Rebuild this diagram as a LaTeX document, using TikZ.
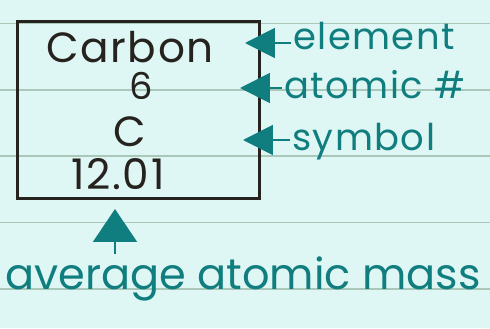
\documentclass[tikz,border=0pt]{standalone}
\usepackage{fontspec}
\setmainfont{Poppins}
\newfontfamily\wideface{Poppins}[LetterSpace=4]
\usepackage{xcolor}
\definecolor{paper}{RGB}{222,247,245}
\definecolor{ruling}{RGB}{170,200,185}
\definecolor{ink}{RGB}{38,34,30}
\definecolor{teal}{RGB}{16,126,126}
\usepackage{tikz}
\usetikzlibrary{arrows.meta, positioning, calc}

\begin{document}
\begin{tikzpicture}[x=0.02cm, y=-0.02cm]
  \tikzstyle{rule}=[draw=ruling, line width=0.9pt]
  \tikzstyle{card}=[rectangle, draw=ink, line width=1.7pt, minimum width=4.86cm,
    minimum height=3.54cm, inner sep=0pt]
  \tikzstyle{entry}=[inner sep=0pt, text=ink, font=\wideface\fontsize{24}{24}\selectfont]
  \tikzstyle{lbl}=[inner sep=1pt, text=teal, font=\wideface\fontsize{21}{21}\selectfont]
  \tikzstyle{arr}=[-{Triangle[length=0.6cm, width=0.6cm]}, line width=1.1pt, color=teal]
  \tikzstyle{bigarr}=[-{Triangle[length=0.66cm, width=0.88cm]}, line width=1.1pt, color=teal]
  % paper
  \fill[paper] (0,0) rectangle (490,328);
  \useasboundingbox (0,0) rectangle (490,328);
  \draw[rule] (0,23.5) -- (490,23.5);
  \draw[rule] (0,90) -- (490,90);
  \draw[rule] (0,156) -- (490,156);
  \draw[rule] (0,222.5) -- (490,222.5);
  \draw[rule] (0,289) -- (490,289);
  % element card
  \node[card] (box) at (138.5,110) {};
  \node[entry, anchor=base] (name) at (130,62) {Carbon};
  \node[entry, anchor=base, font=\wideface\fontsize{21}{21}\selectfont] (num) at (141,99) {6};
  \node[entry, anchor=base] (sym) at (130,146) {C};
  \node[entry, anchor=base] (mass) at (118,189) {12.01};
  % labels
  \node[lbl, anchor=base west] (lelem) at (291,50) {element};
  \node[lbl, anchor=base west] (latom) at (282,98) {atomic \#};
  \node[lbl, anchor=base west] (lsym) at (290,150) {symbol};
  \node[lbl, font=\fontsize{24.5}{24.5}\selectfont, anchor=base] (lmass) at (243,289)
    {average atomic mass};
  \coordinate (telem) at (245,43);
  \coordinate (tatom) at (240,88);
  \coordinate (tsym) at (243,140);
  \coordinate (tmass) at (115,209);
  \draw[arr] (lelem.west |- telem) -- (telem);
  \draw[arr] (latom.west |- tatom) -- (tatom);
  \draw[arr] (lsym.west |- tsym) -- (tsym);
  \draw[bigarr] (lmass.north -| tmass) -- (tmass);
\end{tikzpicture}
\end{document}
